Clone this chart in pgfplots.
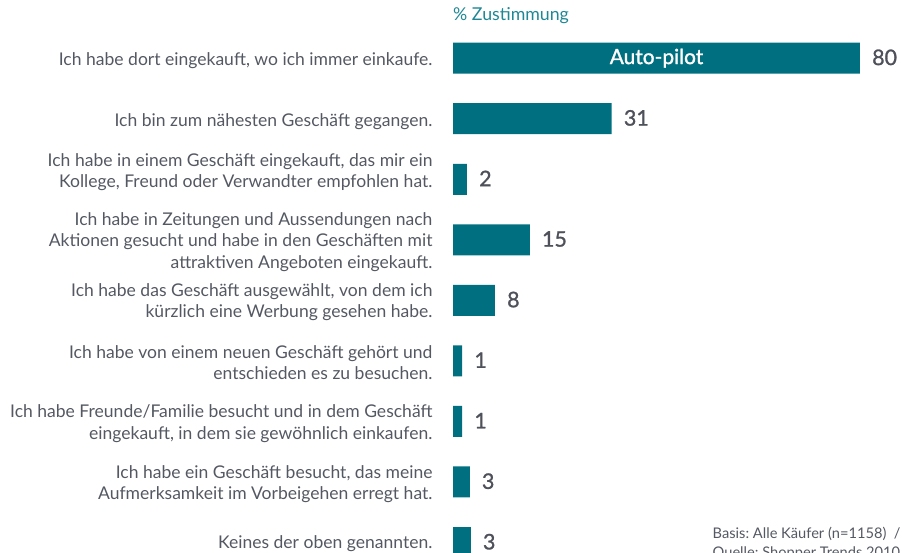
\documentclass[border=0pt]{standalone}
\usepackage{pgfplots}
\pgfplotsset{compat=1.18}
\usepackage{fontspec}
\setmainfont{Lato}
\newfontface\valfont{Lato}[FakeBold=1.2]

\definecolor{barteal}{RGB}{0,112,128}
\definecolor{labelgray}{RGB}{84,88,98}
\definecolor{valgray}{RGB}{78,80,90}
\definecolor{headteal}{RGB}{30,135,148}

\tikzset{labelnode/.style={anchor=east, align=right, text=labelgray,
    font=\fontsize{17.6}{21.5}\selectfont, xshift=-17bp, yshift=-2bp}}

\begin{document}
\frenchspacing
\begin{tikzpicture}
\useasboundingbox (0,0) rectangle (902bp,553bp);
\clip (0,0) rectangle (902bp,553bp);

\begin{axis}[
  at={(453bp,525.1bp)}, anchor=north west,
  width=407bp, height=544.9bp, scale only axis,
  xmin=0, xmax=80, ymin=-0.5, ymax=8.5, y dir=reverse,
  xbar, bar width=31bp, hide axis, clip=false,
  point meta=explicit symbolic,
  nodes near coords,
  every node near coord/.append style={
    font=\valfont\fontsize{21.5}{25}\selectfont, text=valgray, inner sep=0pt,
    anchor=west, xshift=12bp, yshift=0.8bp},
]
\addplot[fill=barteal, draw=none] table[meta=lab] {
x y lab
80 0 80
31.2 1 31
2.75 2 2
15.1 3 15
8.25 4 8
1.8 5 1
1.8 6 1
3.3 7 3
3.5 8 3
};

\node[text=white, font=\valfont\fontsize{21}{25}\selectfont] at (axis cs:40,0) {Auto-pilot};

\node[labelnode] at (axis cs:0,0) {Ich habe dort eingekauft, wo ich immer einkaufe.};
\node[labelnode, yshift=-1bp] at (axis cs:0,1) {Ich bin zum nähesten Geschäft gegangen.};
\node[labelnode, yshift=9bp] at (axis cs:0,2) {Ich habe in einem Geschäft eingekauft, das mir ein\\Kollege, Freund oder Verwandter empfohlen hat.};
\node[labelnode] at (axis cs:0,3) {Ich habe in Zeitungen und Aussendungen nach\\Aktionen gesucht und habe in den Geschäften mit\\attraktiven Angeboten eingekauft.};
\node[labelnode] at (axis cs:0,4) {Ich habe das Geschäft ausgewählt, von dem ich\\kürzlich eine Werbung gesehen habe.};
\node[labelnode] at (axis cs:0,5) {Ich habe von einem neuen Geschäft gehört und\\entschieden es zu besuchen.};
\node[labelnode] at (axis cs:0,6) {Ich habe Freunde/Familie besucht und in dem Geschäft\\eingekauft, in dem sie gewöhnlich einkaufen.};
\node[labelnode] at (axis cs:0,7) {Ich habe ein Geschäft besucht, das meine\\Aufmerksamkeit im Vorbeigehen erregt hat.};
\node[labelnode, yshift=1bp] at (axis cs:0,8) {Keines der oben genannten.};
\end{axis}

\node[anchor=base west, inner sep=0pt, text=headteal, font=\fontsize{17.8}{21}\selectfont]
  at (453bp,532.3bp) {\% Zustimmung};
\node[anchor=base west, inner sep=0pt, text=labelgray, font=\fontsize{14.7}{18}\selectfont]
  at (712.5bp,15bp) {Basis: Alle Käufer (n=1158)\ \ /};
\node[anchor=base west, inner sep=0pt, text=labelgray, font=\fontsize{14.7}{18}\selectfont]
  at (712.5bp,-4bp) {Quelle: Shopper Trends 2010};
\end{tikzpicture}
\end{document}
